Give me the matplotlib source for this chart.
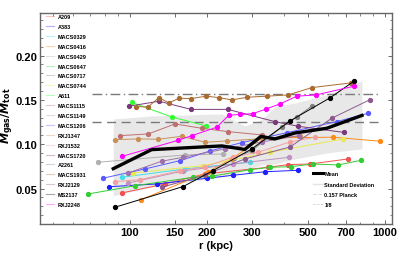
import matplotlib
matplotlib.use("Agg")
import matplotlib.pyplot as plt
from matplotlib.lines import Line2D
from matplotlib.ticker import FixedLocator, NullFormatter, MultipleLocator, LogLocator
import numpy as np

plt.rcParams['font.family'] = ['Liberation Sans', 'DejaVu Sans']
plt.rcParams['font.weight'] = 'bold'

names = ["A209", "A383", "MACS0329", "MACS0416", "MACS0429", "MACS0647", "MACS0717",
         "MACS0744", "A611", "MACS1115", "MACS1149", "MACS1206", "RXJ1347", "RXJ1532",
         "MACS1720", "A2261", "MACS1931", "RXJ2129", "MS2137", "RXJ2248"]

r_A209 = [92.8, 137.1, 196.8, 347.6, 416.6, 508, 717.7]
f_A209 = [0.0450, 0.0552, 0.0665, 0.0740, 0.0770, 0.0777, 0.0834]
r_A383 = [82.9, 127.3, 199.9, 254.1, 339.6, 456]
f_A383 = [0.0521, 0.0552, 0.0616, 0.0650, 0.0690, 0.0706]
r_MACS0329 = [92.8, 164.3, 295.5]
f_MACS0329 = [0.0627, 0.0721, 0.0797]
r_MACS0416 = [110.4, 202.2, 250.5, 329.3, 627, 956]
f_MACS0416 = [0.0374, 0.0687, 0.0834, 0.1071, 0.1079, 0.1034]
r_MACS0429 = [75.1, 164.3, 232.2]
f_MACS0429 = [0.0797, 0.0879, 0.0890]
r_MACS0647 = [68.6, 104.6, 177, 209.1, 295.5, 354, 426.8, 523.4, 655.9, 805]
f_MACS0647 = [0.0439, 0.0532, 0.0627, 0.0639, 0.0713, 0.0740, 0.0747, 0.0777, 0.0766, 0.0819]
r_MACS0717 = [255.8, 300.1, 393.4, 449.8, 515]
f_MACS0717 = [0.0842, 0.0928, 0.1192, 0.1305, 0.1427]
r_MACS0744 = [103, 193.9, 354, 686.2]
f_MACS0744 = [0.0676, 0.0758, 0.0910, 0.1060]
r_A611 = [101.5, 145.7, 199]
f_A611 = [0.1472, 0.1308, 0.1206]
r_MACS1115 = [91.4, 118, 150.2, 191, 242.9, 328.5]
f_MACS1115 = [0.1097, 0.1116, 0.1229, 0.1180, 0.1142, 0.1105]
r_MACS1149 = [98.5, 161.8, 253.5, 421]
f_MACS1149 = [0.0563, 0.0698, 0.0777, 0.0853]
r_MACS1206 = [78.1, 114.5, 157.1, 205.9, 274.2, 411.7, 646.5, 860]
f_MACS1206 = [0.0616, 0.0721, 0.0815, 0.0924, 0.1018, 0.1130, 0.1255, 0.1350]
r_RXJ1347 = [87.3, 107.8, 129.1, 159.5, 196.8, 239.4, 464]
f_RXJ1347 = [0.1052, 0.1060, 0.1056, 0.1090, 0.1022, 0.1037, 0.1090]
r_RXJ1532 = [87.3, 109.4, 157.1, 196.8, 253.5, 318.5, 424.2, 531.5]
f_RXJ1532 = [0.0578, 0.0600, 0.0702, 0.0744, 0.0856, 0.0910, 0.1026, 0.1079]
r_MACS1720 = [99.1, 130, 173.5, 242, 370, 456, 691]
f_MACS1720 = [0.1429, 0.1485, 0.1393, 0.1393, 0.1255, 0.1203, 0.1133]
r_A2261 = [98.5, 133.1, 161.8, 235.8, 329.3, 460]
f_A2261 = [0.0676, 0.0808, 0.0853, 0.0947, 0.1026, 0.1097]
r_MACS1931 = [105.6, 117.7, 130, 142, 156, 173.5, 199, 223, 251, 288, 344, 416, 517, 736]
f_MACS1931 = [0.1424, 0.1421, 0.1526, 0.1466, 0.1519, 0.1515, 0.1542, 0.1526, 0.1500,
              0.1530, 0.1542, 0.1556, 0.1639, 0.1692]
r_RXJ2129 = [133.1, 196.8, 282, 424.2, 618, 873.5]
f_RXJ2129 = [0.0514, 0.0653, 0.0834, 0.0969, 0.1293, 0.1503]
r_MS2137 = [87.3, 161.8, 211.6, 300.1, 424.2, 608.4, 759]
f_MS2137 = [0.0289, 0.0523, 0.0702, 0.0947, 0.1263, 0.1523, 0.1715]
r_RXJ2248 = [92.8, 154, 175, 219, 244, 271, 303, 341, 389, 451, 536, 756]
f_RXJ2248 = [0.0862, 0.1043, 0.1097, 0.1192, 0.1327, 0.1336, 0.1345, 0.1396, 0.1457,
             0.1542, 0.1556, 0.1655]

colors = ["#F05050", "#1E1EFF", "#40E0E8", "#FF8C1A", "#B0B0B0", "#33CC33", "#808080",
          "#E8E850", "#33FF33", "#BF6F6F", "#C090C0", "#5A5AFF", "#C8915A", "#F4A0A0",
          "#7A3A7A", "#A070A8", "#A86B32", "#8E5A8E", "#000000", "#FF00FF"]

r_mean = [86, 121.6, 229, 282, 326, 370, 444, 591, 812]
f_mean = [0.0724, 0.0939, 0.0981, 0.0941, 0.1088, 0.1060, 0.1127, 0.1180, 0.1325]
f_upper = [0.1285, 0.1319, 0.1342, 0.1206, 0.1274, 0.1421, 0.1466, 0.1556, 0.1715]
f_lower = [0.0420, 0.0518, 0.0631, 0.0698, 0.0766, 0.0777, 0.0834, 0.0902, 0.0947]

planck = 0.157
eighth = 1 / 8
line_r = [71, 940]

xticks = [100, 150, 200, 300, 500, 700, 1000]
yticks = [0.05, 0.10, 0.15, 0.20]

series_r = [r_A209, r_A383, r_MACS0329, r_MACS0416, r_MACS0429, r_MACS0647, r_MACS0717,
            r_MACS0744, r_A611, r_MACS1115, r_MACS1149, r_MACS1206, r_RXJ1347, r_RXJ1532,
            r_MACS1720, r_A2261, r_MACS1931, r_RXJ2129, r_MS2137, r_RXJ2248]
series_f = [f_A209, f_A383, f_MACS0329, f_MACS0416, f_MACS0429, f_MACS0647, f_MACS0717,
            f_MACS0744, f_A611, f_MACS1115, f_MACS1149, f_MACS1206, f_RXJ1347, f_RXJ1532,
            f_MACS1720, f_A2261, f_MACS1931, f_RXJ2129, f_MS2137, f_RXJ2248]

fig = plt.figure(figsize=(3.99, 2.55), dpi=100)
ax = fig.add_axes([0.1003, 0.1176, 0.8822, 0.8274])
ax.set_xscale('log')

ax.fill_between(r_mean, f_lower, f_upper, color='#E8E8E8', lw=0, zorder=0)
ax.plot(line_r, [planck, planck], color='#7a7a7a', lw=1.0, dashes=(7, 2.5, 1, 2.5), zorder=1)
ax.plot(line_r, [eighth, eighth], color='#7a7a7a', lw=1.0, dashes=(6.5, 4), zorder=1)

for rr, ff, c in zip(series_r, series_f, colors):
    ax.plot(rr, ff, '-', color=c, lw=0.7, marker='o', ms=2.8, mec=c, mfc=c, zorder=2)

ax.plot(r_mean, f_mean, color='black', lw=2.4, zorder=4, solid_joinstyle='miter')

ax.set_xlim(44.4, 1065)
ax.set_ylim(0.010, 0.248)
ax.xaxis.set_major_locator(FixedLocator(xticks))
ax.set_xticklabels([str(t) for t in xticks])
ax.xaxis.set_minor_locator(LogLocator(base=10, subs=np.arange(1, 10)))
ax.xaxis.set_minor_formatter(NullFormatter())
ax.yaxis.set_major_locator(FixedLocator(yticks))
ax.set_yticklabels(["%.2f" % t for t in yticks])
ax.yaxis.set_minor_locator(MultipleLocator(0.01))
ax.tick_params(which='both', direction='in', top=True, right=True, color='#555555')
ax.tick_params(which='major', length=3, width=0.6, labelsize=8, pad=2)
ax.tick_params(which='minor', length=1.8, width=0.5)
for s in ax.spines.values():
    s.set_color('#666666')
    s.set_linewidth(1.0)
for lab in ax.get_xticklabels() + ax.get_yticklabels():
    lab.set_fontweight('bold')

ax.set_xlabel('r (kpc)', fontsize=8, fontweight='bold', labelpad=2)
ax.set_ylabel(r'$\mathbf{\mathit{M}_{gas}/\mathit{M}_{tot}}$', fontsize=8)
ax.yaxis.set_label_coords(-0.068, 0.52)

h1 = [Line2D([0], [0], color=c, lw=0.8, alpha=0.35) for c in colors]
leg1 = ax.legend(h1, names, loc='upper left', bbox_to_anchor=(0.018, 0.995), frameon=False,
                 fontsize=4, handlelength=1.3, handletextpad=0.7, labelspacing=0.88,
                 borderpad=0, borderaxespad=0)
for t in leg1.get_texts():
    t.set_fontweight('bold')
ax.add_artist(leg1)

h2 = [Line2D([0], [0], color='black', lw=2.2),
      Line2D([0], [0], color='#e4e4e4', lw=1.0),
      Line2D([0], [0], color='#c8c8c8', lw=0.6, dashes=(3, 1.5, 0.8, 1.5)),
      Line2D([0], [0], color='#c8c8c8', lw=0.6, dashes=(2.5, 2))]
leg2 = ax.legend(h2, ['Mean', 'Standard Deviation', '0.157 Planck', '1/8'], loc='upper left',
                 bbox_to_anchor=(0.775, 0.25), frameon=False, fontsize=4, handlelength=1.8,
                 handletextpad=0.3, labelspacing=0.95, borderpad=0, borderaxespad=0)
for t in leg2.get_texts():
    t.set_fontweight('bold')

fig.savefig('out.png', dpi=100)
